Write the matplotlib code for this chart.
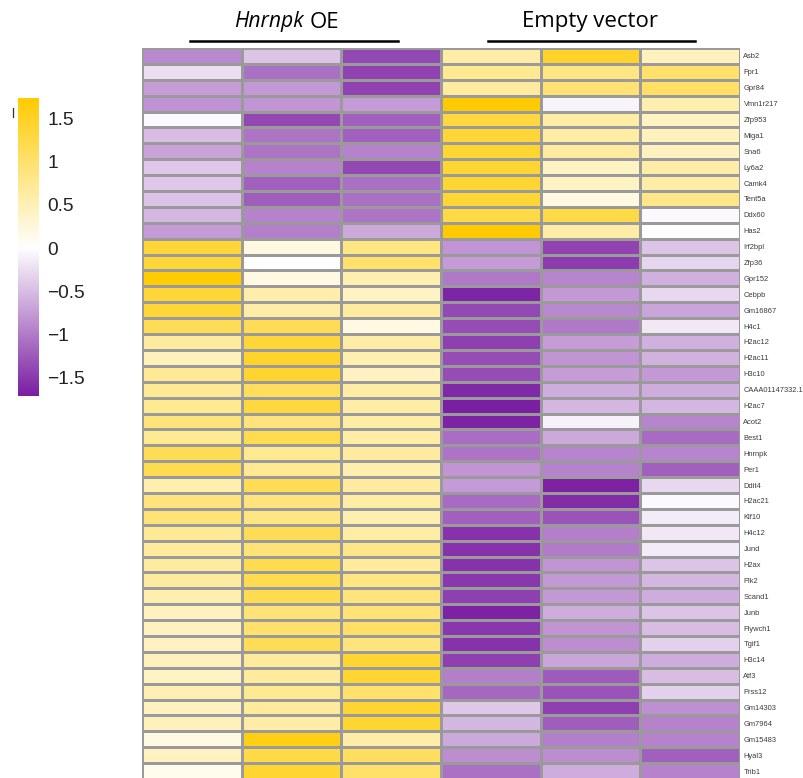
import numpy as np
import matplotlib
matplotlib.use("Agg")
import matplotlib.pyplot as plt
from matplotlib.colors import LinearSegmentedColormap, Normalize
from matplotlib.lines import Line2D

genes = ["Asb2", "Fpr1", "Gpr84", "Vmn1r217", "Zfp953", "Miga1", "Sna6", "Ly6a2",
         "Camk4", "Tent5a", "Ddx60", "Has2", "Irf2bpl", "Zfp36", "Gpr152", "Cebpb",
         "Gm16867", "H4c1", "H2ac12", "H2ac11", "H3c10", "CAAA01147332.1", "H2ac7",
         "Acot2", "Best1", "Hnrnpk", "Per1", "Ddit4", "H2ac21", "Klf10", "H4c12",
         "Jund", "H2ax", "Plk2", "Scand1", "Junb", "Flywch1", "Tgif1", "H3c14",
         "Atf3", "Prss12", "Gm14303", "Gm7964", "Gm15483", "Hyal3", "Trib1"]

# row z-scores, three Hnrnpk OE replicates
oe_values = [
    [-0.90, -0.45, -1.38], [-0.25, -1.08, -1.42], [-0.75, -0.78, -1.42],
    [-0.82, -0.80, -0.76], [-0.05, -1.40, -1.20], [-0.50, -1.05, -1.20],
    [-0.70, -1.05, -0.95], [-0.42, -0.95, -1.40], [-0.42, -1.20, -1.08],
    [-0.47, -1.22, -1.08], [-0.55, -0.95, -1.05], [-0.76, -0.98, -0.65],
    [1.35, 0.20, 0.85], [1.35, 0.00, 1.00], [1.70, 0.20, 0.55],
    [1.35, 0.58, 0.40], [1.35, 0.62, 0.67], [1.15, 1.15, 0.20],
    [0.67, 1.35, 0.60], [0.45, 1.45, 0.55], [0.72, 1.42, 0.42],
    [0.73, 1.12, 0.62], [0.75, 1.30, 0.62], [0.90, 0.88, 0.62],
    [0.75, 1.20, 0.62], [1.15, 0.75, 0.65], [1.20, 0.75, 0.55],
    [0.55, 1.15, 0.65], [0.88, 0.88, 0.62], [0.92, 0.85, 0.55],
    [0.72, 1.15, 0.62], [0.68, 0.92, 0.80], [0.65, 1.20, 0.68],
    [0.65, 1.20, 0.85], [0.55, 1.20, 0.88], [0.42, 0.92, 0.92],
    [0.42, 1.00, 1.05], [0.42, 1.15, 0.88], [0.45, 0.68, 1.40],
    [0.40, 0.68, 1.40], [0.52, 0.75, 1.00], [0.42, 0.68, 1.40],
    [0.45, 0.60, 1.40], [0.20, 1.60, 0.60], [0.42, 1.25, 1.08],
    [0.12, 1.40, 1.02],
]

# row z-scores, three empty vector replicates
ev_values = [
    [0.60, 1.45, 0.45], [0.75, 0.85, 1.00], [0.65, 0.95, 1.05],
    [1.74, -0.08, 0.55], [1.30, 0.62, 0.40], [1.35, 0.62, 0.45],
    [1.40, 0.65, 0.42], [1.40, 0.40, 0.60], [1.40, 0.40, 0.62],
    [1.38, 0.20, 0.80], [1.25, 1.25, -0.05], [1.74, 0.60, 0.00],
    [-0.80, -1.42, -0.45], [-0.76, -1.48, -0.32], [-1.02, -0.92, -0.60],
    [-1.65, -0.78, -0.30], [-1.38, -0.90, -0.68], [-1.35, -1.02, -0.18],
    [-1.45, -0.75, -0.60], [-1.35, -0.80, -0.58], [-1.35, -0.74, -0.78],
    [-1.62, -0.62, -0.62], [-1.71, -0.55, -0.55], [-1.68, -0.10, -0.92],
    [-1.10, -0.65, -1.12], [-1.05, -0.92, -0.92], [-0.80, -0.95, -1.20],
    [-0.76, -1.68, -0.30], [-1.12, -1.60, -0.05], [-1.20, -1.30, -0.15],
    [-1.55, -0.98, -0.18], [-1.55, -1.00, -0.15], [-1.55, -0.80, -0.45],
    [-1.52, -0.77, -0.55], [-1.45, -0.77, -0.62], [-1.68, -0.63, -0.45],
    [-1.52, -0.80, -0.50], [-1.55, -0.85, -0.35], [-1.45, -0.68, -0.62],
    [-0.98, -1.25, -0.50], [-1.15, -1.30, -0.35], [-0.42, -1.45, -0.84],
    [-0.55, -1.22, -0.95], [-0.65, -0.98, -0.95], [-0.86, -0.86, -1.20],
    [-1.08, -0.62, -0.95],
]

cbar_ticks = [1.5, 1, 0.5, 0, -0.5, -1, -1.5]
cbar_labels = ["1.5", "1", "0.5", "0", "\u22120.5", "\u22121", "\u22121.5"]
vmin, vmax = -1.71, 1.74

mat = np.hstack([np.array(oe_values), np.array(ev_values)])
nrow, ncol = mat.shape

mid = -vmin / (vmax - vmin)
cmap = LinearSegmentedColormap.from_list(
    "purple_gold", [(0.0, "#7a1ea2"), (mid, "#ffffff"), (1.0, "#ffcb00")], N=256)
norm = Normalize(vmin=vmin, vmax=vmax)

W, H = 804, 778
fig = plt.figure(figsize=(W / 100, H / 100), dpi=100)

# heatmap body
ax = fig.add_axes([142 / W, 1 - 779 / H, 598 / W, 731 / H])
ax.pcolormesh(mat, cmap=cmap, norm=norm, edgecolors="#9a9a9a", linewidth=0.9)
ax.set_xlim(0, ncol)
ax.set_ylim(nrow, 0)
ax.set_xticks([])
ax.yaxis.tick_right()
ax.set_yticks(np.arange(nrow) + 0.5)
ax.set_yticklabels(genes, fontsize=5.4, color="#3a3a3a",
                   family=["Liberation Sans Narrow", "Liberation Sans"])
ax.tick_params(axis="y", length=0, pad=2.5)
for s in ax.spines.values():
    s.set_visible(False)

# colour key
cax = fig.add_axes([18 / W, 1 - 396 / H, 21 / W, 298.5 / H])
grad = np.linspace(vmin, vmax, 256).reshape(-1, 1)
cax.imshow(grad, cmap=cmap, norm=norm, aspect="auto", origin="lower",
           extent=[0, 1, vmin, vmax])
cax.set_xticks([])
cax.yaxis.tick_right()
cax.set_yticks(cbar_ticks)
cax.set_yticklabels(cbar_labels, fontsize=13.8, color="#222222", family="Liberation Sans")
cax.tick_params(axis="y", length=0, pad=6)
for s in cax.spines.values():
    s.set_visible(False)
fig.add_artist(Line2D([12.7 / W, 12.7 / W], [1 - 108 / H, 1 - 117 / H],
                      color="#333333", lw=0.9))

# group headers
fig.text(234 / W, 1 - 22 / H, "Hnrnpk", fontsize=15.2, style="italic",
         family="Open Sans", ha="left", va="center")
fig.text(310 / W, 1 - 22 / H, "OE", fontsize=16,
         family="Open Sans", ha="left", va="center")
fig.text(590 / W, 1 - 22 / H, "Empty vector", fontsize=16,
         family="Open Sans", ha="center", va="center")
fig.add_artist(Line2D([190 / W, 398 / W], [1 - 41 / H, 1 - 41 / H], color="black", lw=1.8))
fig.add_artist(Line2D([488 / W, 695 / W], [1 - 41 / H, 1 - 41 / H], color="black", lw=1.8))

fig.savefig("out.png", dpi=100)
